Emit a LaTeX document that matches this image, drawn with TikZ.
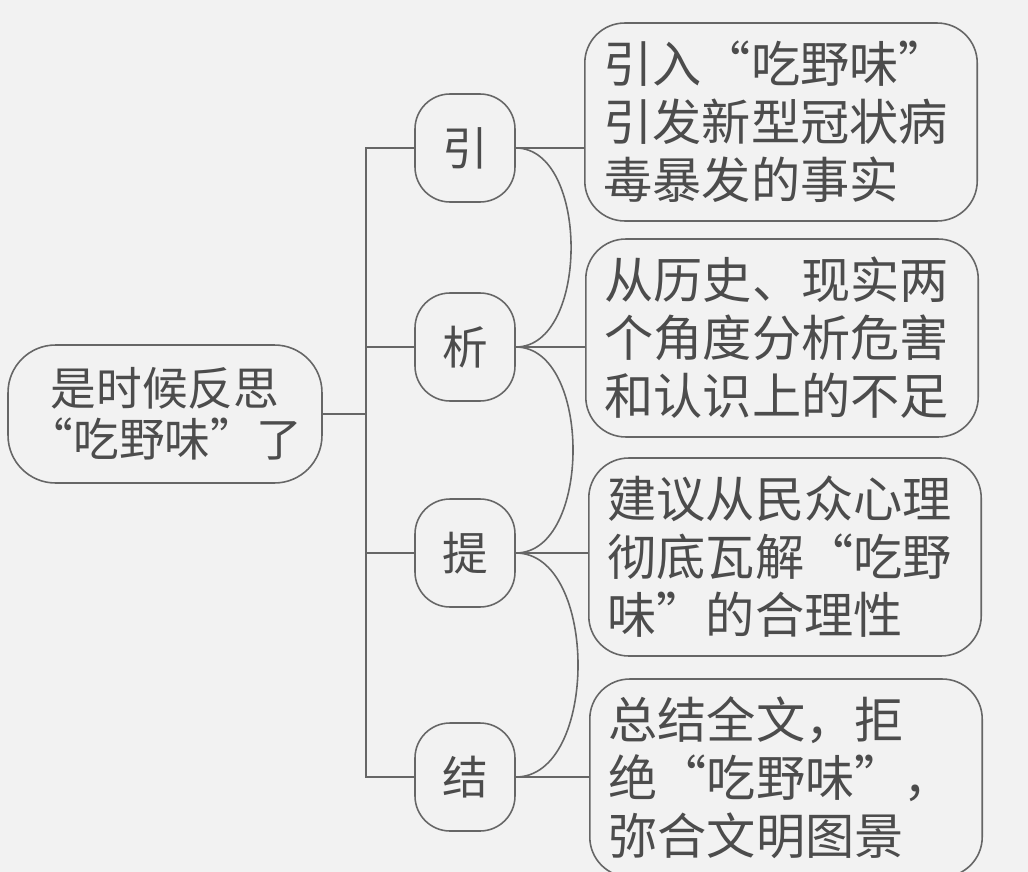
\documentclass[tikz,border=0pt]{standalone}
\usepackage{fontspec}
\newfontfamily\cjk{Noto Sans CJK SC}
\usetikzlibrary{shapes,positioning,calc}

\begin{document}
\begin{tikzpicture}[x=0.02cm,y=-0.02cm,line width=0.9pt,draw=black!60,
    rootbox/.style={draw=black!60,rounded corners=0.95cm,minimum width=6.28cm,minimum height=2.76cm,align=center,text=black!70,font=\cjk\fontsize{26}{29}\selectfont},
    branch/.style={draw=black!60,rounded corners=0.7cm,minimum width=2cm,minimum height=2.16cm,text=black!70,font=\cjk\fontsize{26}{29}\selectfont},
    detail/.style={draw=black!60,rounded corners=0.8cm,minimum width=7.85cm,minimum height=3.96cm,text width=7.1cm,align=left,text=black!70,font=\cjk\fontsize{28}{33}\selectfont}]
            \fill[black!5] (0,0) rectangle (1028,872);
            \useasboundingbox (0,0) rectangle (1028,872);
            % main topic
            \node[rootbox] (root) at (165,414) {是时候反思\\“吃野味”了};
            \coordinate (bus) at (366,414);
            % four steps
            \foreach \n/\t/\y in {yin/引/148, xi/析/347, ti/提/553, jie/结/777} {
                \node[branch] (\n) at (465,\y) {\t};
            }
            % details
            \node[detail] (d1) at (781,122) {引入“吃野味”\\引发新型冠状病\\毒暴发的事实};
            \node[detail] (d2) at (782,338) {从历史、现实两\\个角度分析危害\\和认识上的不足};
            \node[detail] (d3) at (785,557) {建议从民众心理\\彻底瓦解“吃野\\味”的合理性};
            \node[detail] (d4) at (786,778) {总结全文，拒\\绝“吃野味”，\\弥合文明图景};
            % left side
            \draw (root.east) -- (bus);
            \draw (yin.west) -- (yin.west -| bus) -- (jie.west -| bus) -- (jie.west);
            \draw (xi.west) -- (xi.west -| bus);
            \draw (ti.west) -- (ti.west -| bus);
            % right side
            \foreach \a/\b in {yin/d1, xi/d2, ti/d3, jie/d4} {
                \draw (\a.east) -- (\a.east -| \b.west);
            }
            \foreach \a/\b in {yin/xi, xi/ti, ti/jie} {
                \draw (\a.east) to[out=0,in=0,looseness=0.95] (\b.east);
            }
        \end{tikzpicture}
\end{document}
